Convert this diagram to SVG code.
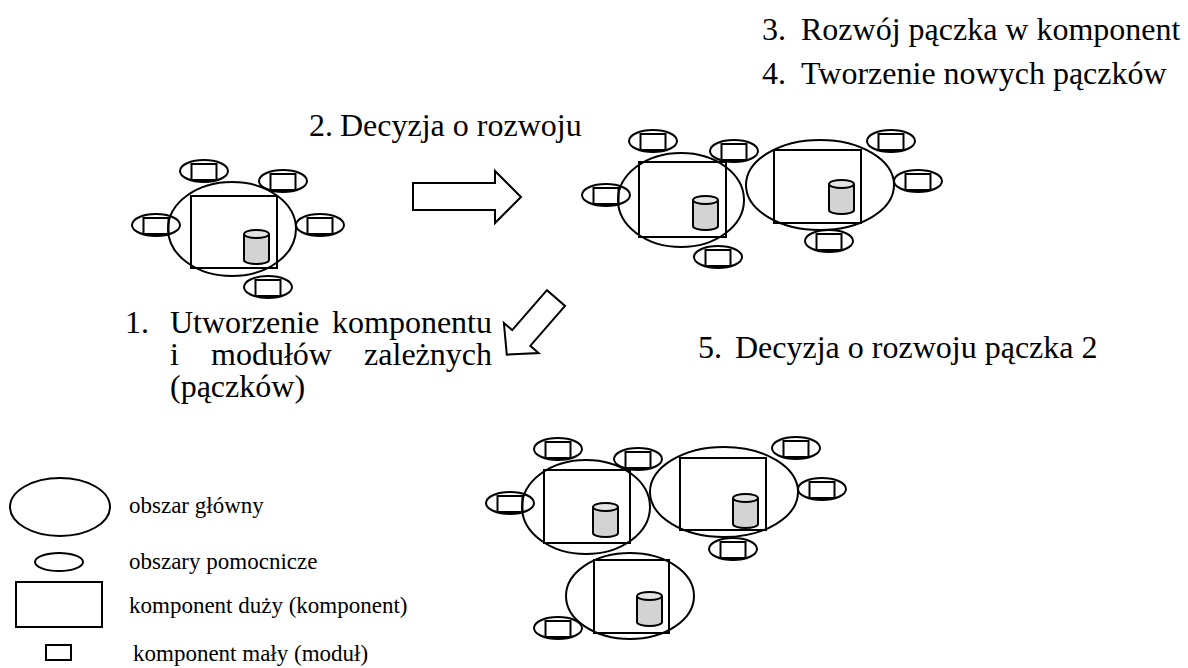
<svg xmlns="http://www.w3.org/2000/svg" width="1188" height="668" viewBox="0 0 1188 668">
<style>
.ln{fill:none;stroke:#000;stroke-width:2}
.t{font-family:"Liberation Serif","Times New Roman",serif;font-size:32px;fill:#000}
.s{font-family:"Liberation Serif","Times New Roman",serif;font-size:23px;fill:#000}
.cb{fill:#d3d3d3;stroke:#000;stroke-width:2}
.ct{fill:#e4e4e4;stroke:#000;stroke-width:2}
.ar{fill:#fff;stroke:#000;stroke-width:2;stroke-linejoin:miter}
</style>
<defs>
<g id="bud"><ellipse class="ln" rx="24" ry="11"/><rect class="ln" x="-12.5" y="-7" width="25" height="16"/></g>
<g id="cyl"><path class="cb" d="M0,4 V30 A12.5,4 0 0 0 25,30 V4"/><ellipse class="ct" cx="12.5" cy="4" rx="12.5" ry="4"/></g>
</defs>
<rect width="1188" height="668" fill="#fff"/>

<g id="labels">
<text class="t" x="762" y="40">3.</text><text class="t" x="801" y="40">Rozwój pączka w komponent</text>
<text class="t" x="762" y="84">4.</text><text class="t" x="801" y="84">Tworzenie nowych pączków</text>
<text class="t" x="309" y="136">2.</text><text class="t" x="340" y="136">Decyzja o rozwoju</text>
<text class="t" x="125" y="333">1.</text>
<text class="t" x="170" y="333">Utworzenie</text>
<text class="t" x="492" y="333" text-anchor="end">komponentu</text>
<text class="t" x="170" y="365">i</text>
<text class="t" x="211" y="365">modułów</text>
<text class="t" x="492" y="365" text-anchor="end">zależnych</text>
<text class="t" x="170" y="397">(pączków)</text>
<text class="t" x="698" y="358">5.</text><text class="t" x="735" y="358">Decyzja o rozwoju pączka 2</text>
</g>

<g id="stage1">
<g id="s1-main"><ellipse class="ln" cx="232" cy="229" rx="64" ry="47"/><rect class="ln" x="191" y="196" width="86" height="72"/><use href="#cyl" x="244" y="230"/></g>
<g id="s1-bud1"><use href="#bud" x="204" y="171"/></g>
<g id="s1-bud2"><use href="#bud" x="283" y="181"/></g>
<g id="s1-bud3"><use href="#bud" x="156" y="225"/></g>
<g id="s1-bud4"><use href="#bud" x="320" y="225"/></g>
<g id="s1-bud5"><use href="#bud" x="268" y="287"/></g>
</g>

<g id="stage2">
<g id="s2-main1"><ellipse class="ln" cx="681" cy="200" rx="63" ry="47"/><rect class="ln" x="639" y="162" width="87" height="75"/><use href="#cyl" x="693" y="196"/></g>
<g id="s2-main2"><ellipse class="ln" cx="820" cy="185" rx="74" ry="45"/><rect class="ln" x="774" y="150" width="87" height="73"/><use href="#cyl" x="829" y="180"/></g>
<g id="s2-bud1"><use href="#bud" x="653" y="141"/></g>
<g id="s2-bud2"><use href="#bud" x="734" y="151"/></g>
<g id="s2-bud3"><use href="#bud" x="606" y="195"/></g>
<g id="s2-bud4"><use href="#bud" x="718" y="257"/></g>
<g id="s2-bud5"><use href="#bud" x="891" y="141"/></g>
<g id="s2-bud6"><use href="#bud" x="918" y="181"/></g>
<g id="s2-bud7"><use href="#bud" x="829" y="241"/></g>
</g>

<g id="stage3">
<g id="s3-main1"><ellipse class="ln" cx="586" cy="507" rx="64" ry="47"/><rect class="ln" x="544" y="470" width="86" height="73"/><use href="#cyl" x="593" y="503"/></g>
<g id="s3-main2"><ellipse class="ln" cx="724" cy="492" rx="74" ry="45"/><rect class="ln" x="680" y="458" width="86" height="72"/><use href="#cyl" x="733" y="494"/></g>
<g id="s3-main3"><ellipse class="ln" cx="630" cy="596" rx="64" ry="43"/><rect class="ln" x="594" y="560" width="75" height="73"/><use href="#cyl" x="637" y="592"/></g>
<g id="s3-bud1"><use href="#bud" x="558" y="449"/></g>
<g id="s3-bud2"><use href="#bud" x="638" y="459"/></g>
<g id="s3-bud3"><use href="#bud" x="510" y="503"/></g>
<g id="s3-bud4"><use href="#bud" x="796" y="448"/></g>
<g id="s3-bud5"><use href="#bud" x="822" y="489"/></g>
<g id="s3-bud6"><use href="#bud" x="733" y="549"/></g>
<g id="s3-bud7"><use href="#bud" x="558" y="628"/></g>
</g>

<g id="connectors">
<polygon class="ar" points="413,183 495,183 495,171 521,197 495,223 495,210 413,210"/>
<polygon class="ar" transform="translate(556,298) rotate(131)" points="0,-12 53,-12 53,-23 75,0 53,23 53,12 0,12"/>
</g>

<g id="legend">
<g id="lg-main"><ellipse class="ln" cx="60" cy="507" rx="50" ry="29"/><text class="s" x="129" y="513">obszar główny</text></g>
<g id="lg-aux"><ellipse class="ln" cx="59" cy="562" rx="24" ry="9"/><text class="s" x="129" y="569">obszary pomocnicze</text></g>
<g id="lg-big"><rect class="ln" x="16" y="582" width="86" height="45"/><text class="s" x="129" y="613">komponent duży (komponent)</text></g>
<g id="lg-small"><rect class="ln" x="46" y="645" width="25" height="15"/><text class="s" x="133" y="661">komponent mały (moduł)</text></g>
</g>
</svg>
